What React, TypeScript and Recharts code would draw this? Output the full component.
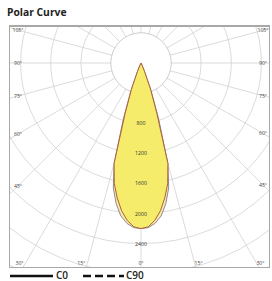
import React from 'react';
import { RadarChart, Radar, PolarGrid, PolarAngleAxis, PolarRadiusAxis } from 'recharts';

// ---- data ----
const title = 'Polar Curve';
const seriesNames = ['C0', 'C90'];
// beam angles (degrees from nadir) and intensities (cd), symmetric about 0°
const beamAngles = [0, 2.5, 5, 7.5, 10, 12.5, 15, 17.5, 20, 22.5, 25, 27.5];
const c0Values = [2200, 2180, 2100, 1980, 1820, 1640, 1380, 700, 370, 120, 30, 0];
const c90Values = [2200, 2190, 2140, 2050, 1900, 1700, 1380, 780, 390, 130, 35, 0];
const angleStep = 2.5;
const angleTicks = [0, 15, 30, 45, 60, 75, 90, 105, 120, 135, 150, 165, 180, 195, 210, 225, 240, 255, 270, 285, 300, 315, 330, 345];
const angleLabelSet = [0, 15, 30, 45, 60, 75, 90, 105];
const radiusTicks = [0, 400, 800, 1200, 1600, 2000, 2400, 2800, 3200, 3600];
const radiusLabels = [800, 1200, 1600, 2000, 2400];
const hubValue = 400;
const radiusMax = 3600;

// ---- layout ----
const FX = 9, FY = 25, FW = 261, FH = 243;
const CX = 132, CY = 38;
const OUTER = (radiusMax / 400) * 30.1;

const valueAt = (list: number[], a: number) => {
  const m = Math.min(a, 360 - a);
  const idx = beamAngles.indexOf(m);
  return idx >= 0 ? list[idx] : 0;
};

const data = Array.from({ length: 360 / angleStep }, (_, i) => {
  const a = i * angleStep;
  return { angle: a, C0: valueAt(c0Values, a), C90: valueAt(c90Values, a), hub: hubValue };
});

const AngleTick = (props: any) => {
  const { x, y, payload } = props;
  const v = payload.value as number;
  const shown = v <= 180 ? v : 360 - v;
  if (!angleLabelSet.includes(shown)) return null;
  const dx = x - CX, dy = y - CY;
  const len = Math.hypot(dx, dy) || 1;
  const ux = dx / len, uy = dy / len;
  const xmin = 9, xmax = 254, ymin = 5, ymax = 238;
  const ts: number[] = [];
  if (ux < -1e-6) ts.push((xmin - CX) / ux);
  if (ux > 1e-6) ts.push((xmax - CX) / ux);
  if (uy > 1e-6) ts.push((ymax - CY) / uy);
  if (uy < -1e-6) ts.push((ymin - CY) / uy);
  const t = Math.min(...ts);
  let px = CX + ux * t;
  const py = CY + uy * t;
  if (Math.abs(py - ymax) < 0.5 && shown !== 0) px += ux > 0 ? 4 : -6;
  return (
    <text x={px} y={py} textAnchor="middle" dominantBaseline="central" fontSize={5.2} fill="#444" fontFamily="Open Sans, sans-serif">
      {shown + '°'}
    </text>
  );
};

const RadiusTick = (props: any) => {
  const { x, y, payload } = props;
  if (!radiusLabels.includes(payload.value)) return null;
  return (
    <text x={x} y={y} textAnchor="middle" dominantBaseline="central" fontSize={5.2} fill="#333" fontFamily="Open Sans, sans-serif">
      {payload.value}
    </text>
  );
};

export default function App() {
  return (
    <div style={{ position: 'absolute', left: 0, top: 0, width: 272, height: 281, background: '#fff', overflow: 'hidden', fontFamily: 'Open Sans, sans-serif' }}>
      <div style={{ position: 'absolute', left: 7, top: 5, fontSize: 10.3, fontWeight: 700, color: '#222', lineHeight: '14px' }}>{title}</div>
      <div style={{ position: 'absolute', left: FX, top: FY, width: FW, height: FH, overflow: 'hidden' }}>
        <RadarChart width={FW} height={FH} data={data} cx={CX} cy={CY} outerRadius={OUTER} startAngle={-90} endAngle={270} margin={{ top: 0, right: 0, bottom: 0, left: 0 }}>
          <PolarGrid gridType="circle" stroke="#d2d2d2" strokeWidth={0.8} />
          <PolarAngleAxis dataKey="angle" type="number" domain={[0, 360]} ticks={angleTicks} axisLine={false} tickLine={false} tick={<AngleTick />} />
          <PolarRadiusAxis angle={-90} type="number" domain={[0, radiusMax]} ticks={radiusTicks} tickCount={10} axisLine={false} tick={<RadiusTick />} />
          <Radar dataKey="hub" stroke="#c8c8c8" strokeWidth={0.8} fill="#ffffff" fillOpacity={1} isAnimationActive={false} dot={false} />
          <Radar name={seriesNames[1]} dataKey="C90" stroke="#8f8a9c" strokeWidth={1} fill="#f7eaa6" fillOpacity={1} isAnimationActive={false} dot={false} />
          <Radar name={seriesNames[0]} dataKey="C0" stroke="#b0603a" strokeWidth={1} fill="#f4ec6a" fillOpacity={1} isAnimationActive={false} dot={false} />
        </RadarChart>
      </div>
      <div style={{ position: 'absolute', left: FX, top: FY, width: FW, height: FH, boxSizing: 'border-box', border: '1px solid #a8a8a8', borderTop: '2px solid #a8a8a8', pointerEvents: 'none' }} />
      <svg style={{ position: 'absolute', left: 0, top: 264 }} width={272} height={17}>
        <line x1={10} x2={53} y1={12} y2={12} stroke="#111" strokeWidth={2.5} />
        <text x={56} y={15} fontSize={10} fontWeight={600} fill="#222" fontFamily="Open Sans, sans-serif">{seriesNames[0]}</text>
        <line x1={83} x2={124} y1={12} y2={12} stroke="#111" strokeWidth={2.5} strokeDasharray="8 4" />
        <text x={126} y={15} fontSize={10} fontWeight={600} fill="#222" fontFamily="Open Sans, sans-serif">{seriesNames[1]}</text>
      </svg>
    </div>
  );
}
